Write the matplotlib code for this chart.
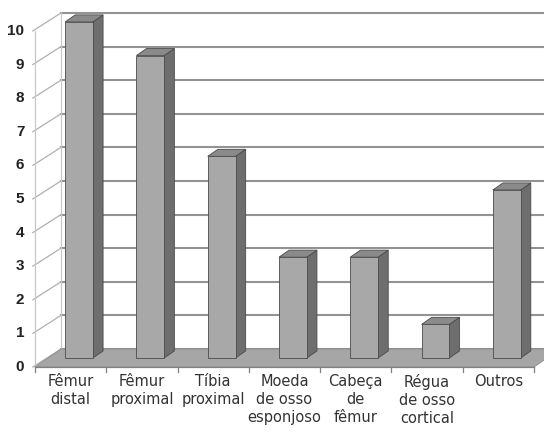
import matplotlib.pyplot as plt
from matplotlib.patches import Polygon

categories = ["Fêmur\ndistal", "Fêmur\nproximal", "Tíbia\nproximal",
              "Moeda\nde osso\nesponjoso", "Cabeça\nde\nfêmur",
              "Régua\nde osso\ncortical", "Outros"]
counts = [10, 9, 6, 3, 3, 1, 5]
y_ticks = list(range(0, 11))

# oblique projection: a step of one unit in depth shifts the point by (DX, DY)
DX, DY = 0.365, 0.536
BAR_X0, BAR_W = 0.24, 0.39
BAR_D0, BAR_D1 = 0.5, 0.89
Y_MAX = 10


def proj(x, y, d):
    return (x + d * DX, y + d * DY)


def face(ax, pts, color, z, edge="#4a4a4a", lw=0.6):
    ax.add_patch(Polygon([proj(*p) for p in pts], closed=True, facecolor=color,
                         edgecolor=edge, linewidth=lw, zorder=z))


plt.rcParams["font.family"] = ["Liberation Sans", "DejaVu Sans"]
fig = plt.figure(figsize=(5.44, 4.33), dpi=100)
ax = fig.add_axes([0, 0, 1, 1])
ax.set_xlim(-0.491, 7.14)
ax.set_ylim(-1.964, 10.92)
ax.axis("off")

n = len(categories)
grid_c = "#939393"

# back wall gridlines
for v in y_ticks:
    x0, y0 = proj(0, v, 1)
    x1, y1 = proj(n, v, 1)
    ax.plot([x0, x1], [y0, y1], color=grid_c, lw=1.5, zorder=1)
# left wall: diagonal gridlines and edges
for v in y_ticks:
    x0, y0 = proj(0, v, 0)
    x1, y1 = proj(0, v, 1)
    ax.plot([x0 - 0.03, x1], [y0, y1], color="#b0b0b0", lw=0.9, zorder=1)
bx, by = proj(0, 0, 1)
tx, ty = proj(0, Y_MAX, 1)
ax.plot([bx, tx], [by, ty], color="#c8c8c8", lw=0.9, zorder=1)
ax.plot([0, 0], [0, Y_MAX], color="#c8c8c8", lw=0.9, zorder=1)

# floor
face(ax, [(0, 0, 0), (n, 0, 0), (n, 0, 1), (0, 0, 1)], "#a6a6a6", 2,
     edge="#8a8a8a", lw=0.6)

# category axis with ticks
ax.plot([0, n], [0, 0], color="#808080", lw=0.9, zorder=3)
for i in range(n + 1):
    ax.plot([i, i], [0, -0.16], color="#808080", lw=0.9, zorder=3)

# bars
for i, v in enumerate(counts):
    xl = i + BAR_X0
    xr = xl + BAR_W
    face(ax, [(xr, 0, BAR_D0), (xr, 0, BAR_D1), (xr, v, BAR_D1), (xr, v, BAR_D0)],
         "#6e6e6e", 4 + i)
    face(ax, [(xl, v, BAR_D0), (xr, v, BAR_D0), (xr, v, BAR_D1), (xl, v, BAR_D1)],
         "#8a8a8a", 4 + i)
    face(ax, [(xl, 0, BAR_D0), (xr, 0, BAR_D0), (xr, v, BAR_D0), (xl, v, BAR_D0)],
         "#a8a8a8", 4 + i)

# value axis labels
for v in y_ticks:
    ax.text(-0.15, v, str(v), ha="right", va="center", fontsize=11,
            fontweight="bold", color="#222222")

# category labels
for i, lab in enumerate(categories):
    ax.text(i + 0.5, -0.2, lab, ha="center", va="top", fontsize=10.5,
            family="DejaVu Sans", linespacing=1.28, color="#333333")

fig.savefig("out.png", dpi=100)
